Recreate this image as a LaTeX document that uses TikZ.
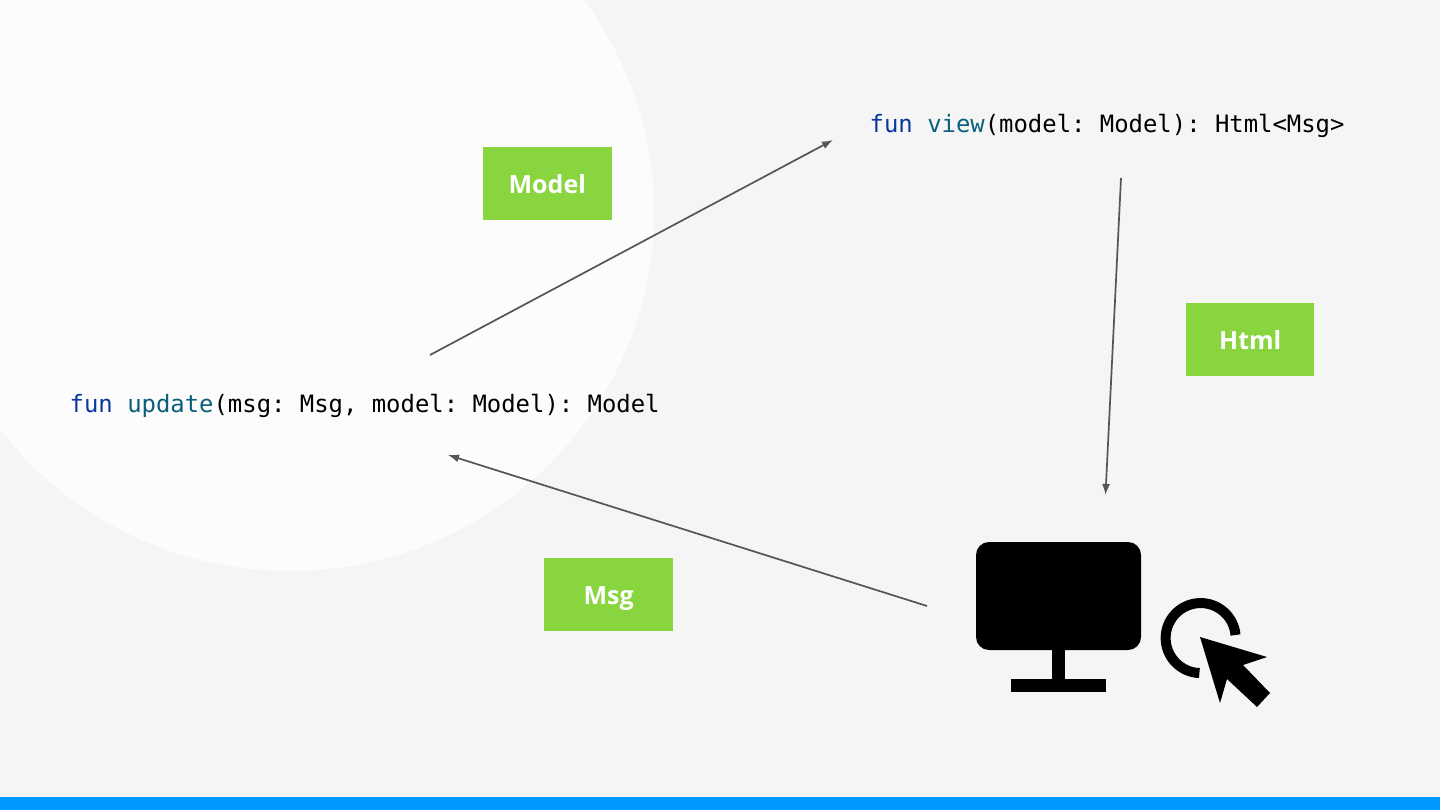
\documentclass[tikz,border=0pt]{standalone}
\usepackage{fontspec}
\setmainfont{Open Sans}
\setmonofont{DejaVu Sans Mono}
\usetikzlibrary{arrows.meta}
\definecolor{pagegray}{HTML}{F5F5F5}
\definecolor{circlegray}{HTML}{FCFCFC}
\definecolor{barblue}{HTML}{0099FF}
\definecolor{boxgreen}{HTML}{88D540}
\definecolor{linegray}{HTML}{555555}
\definecolor{keyblue}{HTML}{0A38A0}
\definecolor{funteal}{HTML}{0B5F7C}
\tikzset{
    msgbox/.style={fill=boxgreen, text=white, font=\fontsize{25}{30}\selectfont\bfseries, minimum width=128.5pt, minimum height=73pt, inner sep=0pt, text height=20pt, text depth=0pt},
    codeline/.style={anchor=base west, inner sep=0pt, font=\fontsize{23.9}{28}\ttfamily},
    flow/.style={-{Latex[length=11pt,width=8pt]}, linegray, line width=1.7pt}
}
\newcommand{\kw}[1]{\textcolor{keyblue}{#1}}
\newcommand{\fn}[1]{\textcolor{funteal}{#1}}

\begin{document}
\begin{tikzpicture}[x=1pt, y=-1pt]
    % Background and the bar at the bottom
    \useasboundingbox (0,0) rectangle (1440,810);
    \fill[pagegray] (0,0) rectangle (1440,810);
    \begin{scope}
        \clip (0,0) rectangle (1440,810);
        \fill[circlegray] (290,212) ellipse[x radius=364pt, y radius=359pt];
    \end{scope}
    \fill[barblue] (0,797) rectangle (1440,810);

    % Place the code lines
    \node (UPDATE) [codeline] at (69.5,412) {\kw{fun} \fn{update}(msg: Msg, model: Model): Model};
    \node (VIEW) [codeline] at (869.5,132.5) {\kw{fun} \fn{view}(model: Model): Html<Msg>};

    % Place the green labels
    \node (MODEL) [msgbox] at (547.3,184) {Model};
    \node (HTML) [msgbox] at (1250.2,339.5) {Html};
    \node (MSG) [msgbox] at (608.7,594.5) {Msg};

    % Ends of the arrows
    \coordinate (A1) at (430,355);
    \coordinate (A2) at (833,140);
    \coordinate (B1) at (1121,178);
    \coordinate (B2) at (1105.5,495);
    \coordinate (C1) at (927,606);
    \coordinate (C2) at (448,455);

    % Draw the arrows
    \draw[flow] (A1) -- (A2);
    \draw[flow] (B1) -- (B2);
    \draw[flow] (C1) -- (C2);

    % Monitor
    \fill[black, rounded corners=13pt] (976,542) rectangle (1141,650);
    \fill[black] (1052,645) rectangle (1065,682);
    \fill[black] (1011,679) rectangle (1106,692);

    % Ring and pointer
    \draw[black, line width=10pt] (1235.5,635) arc[start angle=5, end angle=268, radius=35pt];
    \fill[black] (1200,637) -- (1267,657) -- (1243,665) -- (1270,693) -- (1257,707) -- (1227,679) -- (1220,703) -- cycle;
\end{tikzpicture}
\end{document}
